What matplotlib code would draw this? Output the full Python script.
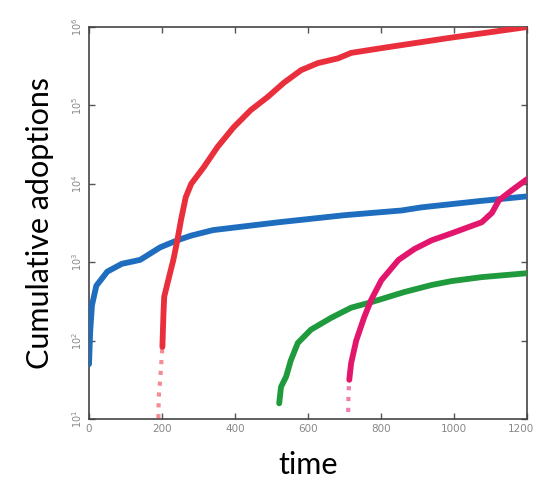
import matplotlib
matplotlib.use("Agg")
import matplotlib.pyplot as plt
import matplotlib.transforms as mtransforms
import numpy as np

# values (time, log10 of cumulative adoptions)
blue_t = [0, 3, 8, 20, 50, 90, 140, 195, 242, 280, 340, 520, 700, 856, 911, 1070, 1200]
blue_log = [1.7, 2.1, 2.45, 2.7, 2.88, 2.98, 3.03, 3.19, 3.28, 3.34, 3.41, 3.51, 3.60, 3.66, 3.70,
            3.78, 3.84]

red_t = [190, 191, 195, 201, 204, 206, 217, 231, 242, 252, 265, 280, 314, 352, 396, 443, 490,
         534, 581, 627, 682, 718, 800, 985, 1200]
red_log = [1.01, 1.28, 1.5, 1.92, 2.35, 2.56, 2.77, 3.03, 3.28, 3.54, 3.83, 4.0, 4.21, 4.47,
           4.72, 4.94, 5.11, 5.29, 5.45, 5.54, 5.6, 5.67, 5.73, 5.86, 6.0]

green_t = [521, 526, 540, 553, 572, 608, 663, 718, 773, 864, 939, 994, 1076, 1200]
green_log = [1.20, 1.41, 1.54, 1.75, 1.97, 2.14, 2.29, 2.42, 2.49, 2.62, 2.71, 2.76, 2.81, 2.86]

pink_t = [710, 711, 713, 718, 732, 754, 773, 801, 848, 892, 939, 994, 1076, 1104, 1123, 1159, 1200]
pink_log = [1.09, 1.33, 1.5, 1.71, 2.0, 2.3, 2.52, 2.77, 3.03, 3.17, 3.28, 3.37, 3.51, 3.63,
            3.79, 3.92, 4.06]

# (t, log values, colour, number of leading points that show as loose dots)
series = [
    (blue_t, blue_log, "#1f6dbf", 0),
    (red_t, red_log, "#ea2f3c", 4),
    (green_t, green_log, "#1f9a3c", 1),
    (pink_t, pink_log, "#e2166c", 3),
]

fig = plt.figure(figsize=(5.35, 4.96), dpi=100)
ax = fig.add_axes([0.1664, 0.1552, 0.8187, 0.7903])

for t, lg, c, nd in series:
    vals = 10 ** np.array(lg)
    t = np.array(t)
    if nd:
        # sparse early adoptions show up as a trail of faint dots
        ax.plot(t[:nd + 1], vals[:nd + 1], linestyle=(0, (1, 1.6)), color=c, lw=3,
                alpha=0.55, zorder=3)
    start = max(nd - 1, 0)
    ax.plot(t[start:], vals[start:], color=c, lw=4.2, solid_capstyle="round", zorder=3)

ax.set_yscale("log")
ax.set_xlim(0, 1200)
ax.set_ylim(10, 1e6)
ax.set_xticks([0, 200, 400, 600, 800, 1000, 1200])
ax.set_yticks([1e1, 1e2, 1e3, 1e4, 1e5, 1e6])
ax.minorticks_off()
ax.tick_params(direction="in", length=4, width=1, top=True, right=True,
               colors="#555555", labelcolor="#888888", labelsize=7.5)
plt.setp(ax.get_yticklabels(), rotation=90, va="center", fontsize=7)
# nudge the last x label so it stays inside the canvas
last = ax.get_xticklabels()[-1]
last.set_transform(last.get_transform() + mtransforms.ScaledTranslation(-6 / 100, 0, fig.dpi_scale_trans))
for s in ax.spines.values():
    s.set_color("#444444")
    s.set_linewidth(1.2)

ax.set_xlabel("time", fontsize=22, family="Lato", labelpad=12)
ax.set_ylabel("Cumulative adoptions", fontsize=22, family="Lato", labelpad=12)

fig.savefig("out.png", dpi=100)
